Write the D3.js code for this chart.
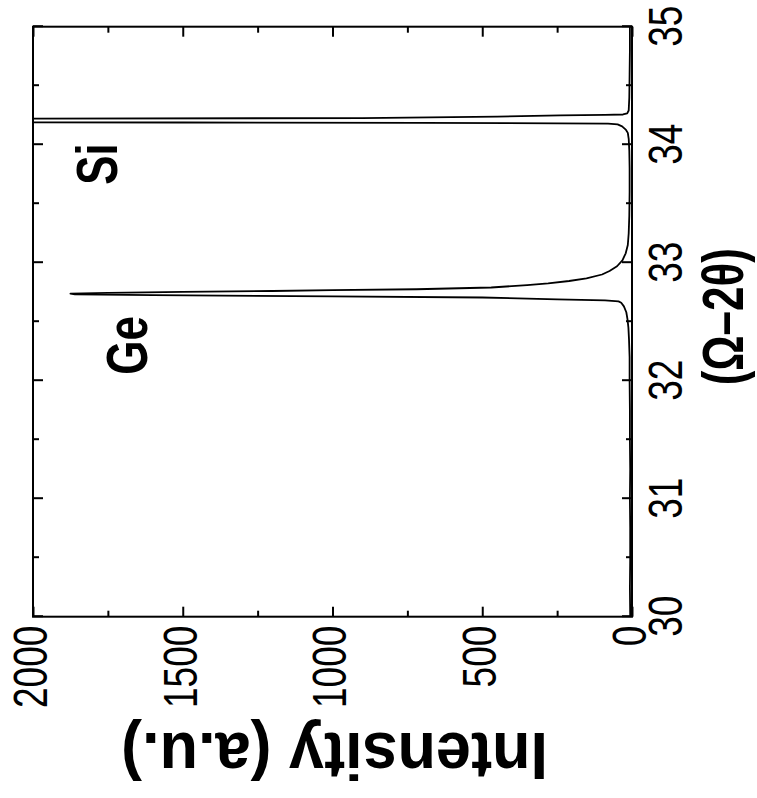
<!DOCTYPE html>
<html>
<head>
<meta charset="utf-8">
<script src="https://cdn.jsdelivr.net/npm/d3@7"></script>
<style>
  body { margin: 0; background: #fff; }
  svg { display: block; }
</style>
</head>
<body>
<svg id="chart"></svg>
<script>
// XRD scan, Ge and Si peaks
const twoTheta = [30.00, 30.25, 30.50, 30.75, 31.00, 31.25, 31.50, 31.75, 32.00, 32.20,
                  32.35, 32.45, 32.52, 32.58, 32.63, 32.66, 32.672, 32.68, 32.69, 32.705,
                  32.715, 32.725, 32.732, 32.738, 32.745, 32.752, 32.76, 32.767, 32.775, 32.79,
                  32.81, 32.825, 32.845, 32.868, 32.90, 32.93, 32.97, 33.02, 33.08, 33.15,
                  33.25, 33.40, 33.60, 33.80, 33.95, 34.05, 34.10, 34.125, 34.155, 34.172,
                  34.179, 34.181, 34.185, 34.188, 34.192, 34.20, 34.215, 34.22, 34.226, 34.238,
                  34.248, 34.252, 34.256, 34.265, 34.29, 34.40, 34.60, 34.80, 35.00];
const intensity = [6, 7, 6, 6, 7, 6, 7, 7, 8, 8,
                   10, 12, 15, 19, 27, 36, 45, 90, 250, 500,
                   1000, 1600, 1860, 1875, 1750, 1500, 1200, 1000, 720, 470,
                   350, 280, 210, 152, 100, 75, 50, 32, 21, 14,
                   11, 9, 8, 8, 9, 11, 14, 20, 33, 48,
                   80, 250, 700, 1500, 2500, 3200, 3200, 2200, 900, 450,
                   240, 90, 30, 16, 11, 9, 8, 7, 7];

const xTicks = [30, 31, 32, 33, 34, 35];
const xMinorTicks = [30.5, 31.5, 32.5, 33.5, 34.5];
const yTicks = [0, 500, 1000, 1500, 2000];
const yMinorTicks = [250, 750, 1250, 1750];

const peakNames = ["Ge", "Si"];
const peakLabelX = [32.05, 33.66];
const peakLabelY = [1621, 1721];

const W = 757, H = 798;
const svg = d3.select("#chart").attr("width", W).attr("height", H);

// whole chart is drawn normally, then turned 90 degrees counter-clockwise
const g = svg.append("g")
    .attr("transform", "translate(0," + H + ") rotate(-90)");

const mLeft = 181.3, mRight = 771.3, mTop = 33, mBottom = 632;
const stretch = 1.3; // glyphs in the picture are taller than wide

const x = d3.scaleLinear().domain([30, 35]).range([mLeft, mRight]);
const y = d3.scaleLinear().domain([0, 2000]).range([mBottom, mTop]);

g.append("clipPath").attr("id", "plotclip")
  .append("rect")
    .attr("x", mLeft).attr("y", mTop)
    .attr("width", mRight - mLeft).attr("height", mBottom - mTop);

// data line
const line = d3.line()
    .x((d, i) => x(twoTheta[i]))
    .y(d => y(d));

g.append("path")
    .datum(intensity)
    .attr("clip-path", "url(#plotclip)")
    .attr("fill", "none")
    .attr("stroke", "#000")
    .attr("stroke-width", 1.8)
    .attr("stroke-linejoin", "round")
    .attr("d", line);

function styleAxis(sel) {
    sel.select(".domain").remove();
    sel.selectAll(".tick line").attr("stroke", "#000").attr("stroke-width", 2);
}

// bottom axis (2 theta)
const xAxis = g.append("g")
    .attr("transform", "translate(0," + mBottom + ")")
    .call(d3.axisBottom(x).tickValues(xTicks).tickSize(-10).tickFormat(d3.format("d")));
styleAxis(xAxis);
xAxis.selectAll(".tick text")
    .attr("font-family", "'Liberation Sans', Arial, sans-serif")
    .attr("font-size", 37)
    .attr("fill", "#000")
    .attr("y", 16 / stretch)
    .attr("dy", "0.71em")
    .attr("transform", "scale(1," + stretch + ")");

g.append("g")
    .attr("transform", "translate(0," + mBottom + ")")
    .call(d3.axisBottom(x).tickValues(xMinorTicks).tickSize(-6).tickFormat(""))
    .call(styleAxis);

g.append("g")
    .attr("transform", "translate(0," + mTop + ")")
    .call(d3.axisTop(x).tickValues(xTicks).tickSize(-10).tickFormat(""))
    .call(styleAxis);
g.append("g")
    .attr("transform", "translate(0," + mTop + ")")
    .call(d3.axisTop(x).tickValues(xMinorTicks).tickSize(-6).tickFormat(""))
    .call(styleAxis);

// left axis (intensity)
const yAxis = g.append("g")
    .attr("transform", "translate(" + mLeft + ",0)")
    .call(d3.axisLeft(y).tickValues(yTicks).tickSize(-10).tickFormat(d3.format("d")));
styleAxis(yAxis);
yAxis.selectAll(".tick text")
    .attr("font-family", "'Liberation Sans', Arial, sans-serif")
    .attr("font-size", 37)
    .attr("fill", "#000")
    .attr("x", -9)
    .attr("y", -4 / stretch)
    .attr("dy", "0.36em")
    .attr("transform", "scale(1," + stretch + ")");

g.append("g")
    .attr("transform", "translate(" + mLeft + ",0)")
    .call(d3.axisLeft(y).tickValues(yMinorTicks).tickSize(-6).tickFormat(""))
    .call(styleAxis);

g.append("g")
    .attr("transform", "translate(" + mRight + ",0)")
    .call(d3.axisRight(y).tickValues(yTicks).tickSize(-10).tickFormat(""))
    .call(styleAxis);
g.append("g")
    .attr("transform", "translate(" + mRight + ",0)")
    .call(d3.axisRight(y).tickValues(yMinorTicks).tickSize(-6).tickFormat(""))
    .call(styleAxis);

// frame
g.append("rect")
    .attr("x", mLeft).attr("y", mTop)
    .attr("width", mRight - mLeft).attr("height", mBottom - mTop)
    .attr("fill", "none")
    .attr("stroke", "#000")
    .attr("stroke-width", 2);

// axis titles
g.append("text")
    .attr("transform", "translate(65," + ((mTop + mBottom) / 2 + 2) + ") rotate(-90) scale(1,1.07)")
    .attr("text-anchor", "middle")
    .attr("font-family", "'Liberation Sans', Arial, sans-serif")
    .attr("font-weight", "bold")
    .attr("font-size", 63)
    .text("Intensity (a.u.)");

g.append("text")
    .attr("transform", "translate(" + ((mLeft + mRight) / 2 + 5) + ",742.7) scale(1," + stretch + ")")
    .attr("text-anchor", "middle")
    .attr("font-family", "'Liberation Sans', Arial, sans-serif")
    .attr("font-weight", "bold")
    .attr("font-size", 44)
    .text("(\u03A9\u20132\u03B8)");

// peak labels
g.selectAll(".peak")
    .data(peakNames)
    .enter().append("text")
    .attr("class", "peak")
    .attr("transform", (d, i) => "translate(" + x(peakLabelX[i]) + "," + y(peakLabelY[i]) + ") scale(1," + stretch + ")")
    .attr("font-family", "'Liberation Sans', Arial, sans-serif")
    .attr("font-weight", "bold")
    .attr("font-size", 44)
    .text(d => d);
</script>
</body>
</html>
